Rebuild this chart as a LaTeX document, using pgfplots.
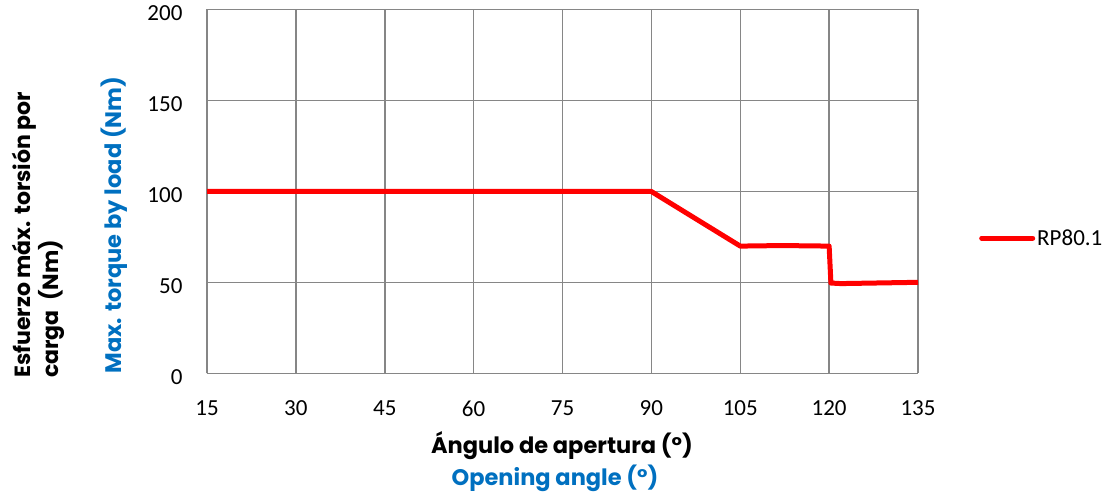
\documentclass[border=0pt]{standalone}
\usepackage{pgfplots}
\pgfplotsset{compat=1.18}
\usepackage{fontspec}
\setmainfont{Carlito}
\newfontfamily\labfont{Poppins}
\definecolor{gridgray}{RGB}{134,134,134}
\definecolor{offblue}{RGB}{0,112,192}
\begin{document}
\begin{tikzpicture}[x=1pt,y=1pt]
\path[use as bounding box] (0,0) rectangle (1116,495);
\begin{axis}[
  at={(207pt,121.5pt)}, anchor=south west,
  scale only axis, width=711pt, height=364pt,
  xmin=15, xmax=135, ymin=0, ymax=200,
  xtick={15,30,...,135}, ytick={0,50,...,200},
  grid=major,
  major grid style={draw=gridgray, line width=1.5pt},
  axis line style={draw=gridgray, line width=1.5pt},
  axis x line*=bottom, axis y line*=left,
  separate axis lines,
  x axis line style={-}, y axis line style={-},
  major tick length=0pt,
  tick label style={font=\fontsize{23}{26}\selectfont, text=black},
  /pgf/number format/assume math mode=true,
  xticklabel style={yshift=-24pt},
  yticklabel style={xshift=-21pt, yshift=-4pt},
  legend style={draw=none, fill=none, at={(1,0.372)}, anchor=west, xshift=61pt,
    font=\fontsize{23}{26}\selectfont, inner sep=0pt},
  legend cell align=left,
  legend image code/.code={\draw[#1, line width=5pt, line cap=round] (0pt,0pt) -- (51pt,0pt);},
]
\addplot[red, line width=5pt, line join=round] coordinates {
  (15,100) (90,100) (105,70) (112,70.3) (120,70) (120.3,49.7) (122,49.4) (135,50.1)
};
\addlegendentry{RP80.1}
\end{axis}
\node[font=\labfont\bfseries\fontsize{22.5}{26}\selectfont, anchor=center] at (562,49) {Ángulo de apertura (°)};
\node[font=\labfont\bfseries\fontsize{22.5}{26}\selectfont, text=offblue, anchor=center] at (555,17) {Opening angle (°)};
\node[font=\labfont\bfseries\fontsize{22}{28}\selectfont, rotate=90, align=left, anchor=north west, inner sep=0pt] at (12,117) {Esfuerzo máx. torsión por\\carga\ \ (Nm)};
\node[font=\labfont\bfseries\fontsize{22.5}{26}\selectfont, text=offblue, rotate=90, anchor=center] at (114,270) {Max. torque by load (Nm)};
\end{tikzpicture}
\end{document}
